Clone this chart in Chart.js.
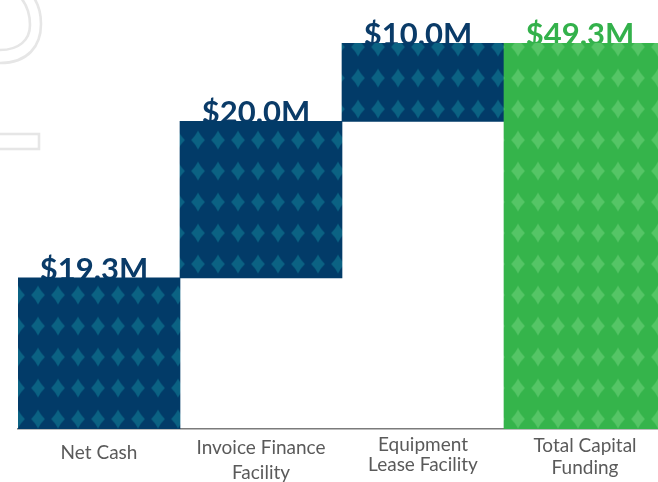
<!DOCTYPE html>
<html>
<head>
<meta charset="utf-8">
<script src="https://cdn.jsdelivr.net/npm/chart.js@4"></script>
<style>
  html, body { margin: 0; padding: 0; background: #fff; overflow: hidden; }
  #wrap { position: absolute; left: 0; top: 0; width: 666px; height: 482px; }
  #deco { position: absolute; left: 0; top: 0; z-index: 0; }
  #chart { position: absolute; left: 0; top: 0; z-index: 1; }
</style>
</head>
<body>
<div id="wrap">
  <svg id="deco" width="120" height="170">
    <path d="M0,63 C28,63 41,46 41,24 C41,12 38,4 34,-2" fill="none" stroke="#e6e6e6" stroke-width="2.6"/>
    <path d="M0,50 C19,50 30,40 30,25 C30,12 26,4 21,-2" fill="none" stroke="#e6e6e6" stroke-width="2.6"/>
    <rect x="-3" y="134" width="42" height="15" fill="none" stroke="#e6e6e6" stroke-width="2.6"/>
  </svg>
  <canvas id="chart" width="666" height="482"></canvas>
</div>
<script>
const categories = [
  ["Net Cash"],
  ["Invoice Finance", "Facility"],
  ["Equipment", "Lease Facility"],
  ["Total Capital", "Funding"]
];
const values = [19.3, 20.0, 10.0, 49.3];
const isTotal = [false, false, false, true];

// floating ranges for the waterfall
let running = 0;
const ranges = values.map((v, i) => {
  if (isTotal[i]) return [0, v];
  const r = [running, running + v];
  running += v;
  return r;
});
const valueLabels = values.map((v) => "$" + v.toFixed(1) + "M");

const canvas = document.getElementById("chart");
const ctx = canvas.getContext("2d");

// tile 20x31 with a concave four-point star in the middle
function makePattern(bg, star) {
  const c = document.createElement("canvas");
  c.width = 20;
  c.height = 31;
  const g = c.getContext("2d");
  g.fillStyle = bg;
  g.fillRect(0, 0, 20, 31);
  const cx = 10, cy = 15.5, hw = 7, hh = 9.5, k = 0.2;
  g.fillStyle = star;
  g.beginPath();
  g.moveTo(cx, cy - hh);
  g.quadraticCurveTo(cx + hw * 2 * k, cy - hh * 2 * k, cx + hw, cy);
  g.quadraticCurveTo(cx + hw * 2 * k, cy + hh * 2 * k, cx, cy + hh);
  g.quadraticCurveTo(cx - hw * 2 * k, cy + hh * 2 * k, cx - hw, cy);
  g.quadraticCurveTo(cx - hw * 2 * k, cy - hh * 2 * k, cx, cy - hh);
  g.fill();
  const p = ctx.createPattern(c, "repeat");
  p.setTransform(new DOMMatrix().translate(8, 0.5));
  return p;
}

const navyFill = makePattern("#023b68", "#0b6283");
const greenFill = makePattern("#35b44b", "#55c566");
const navyText = "#0a3b68";
const greenText = "#33b14b";

const tickLineHeights = ["35px", "25px", "20px", "22px"];

const valueLabelPlugin = {
  id: "valueLabels",
  beforeDatasetsDraw(chart) {
    const meta = chart.getDatasetMeta(0);
    const c = chart.ctx;
    c.save();
    c.font = "bold 31px Lato";
    c.textAlign = "center";
    c.textBaseline = "alphabetic";
    meta.data.forEach((bar, i) => {
      c.fillStyle = isTotal[i] ? greenText : navyText;
      c.fillText(valueLabels[i], bar.x - 5, bar.y + 2);
    });
    c.restore();
  }
};

new Chart(ctx, {
  type: "bar",
  data: {
    labels: categories,
    datasets: [
      {
        data: ranges,
        backgroundColor: isTotal.map((t) => (t ? greenFill : navyFill)),
        borderWidth: 0,
        barPercentage: 1,
        categoryPercentage: 1,
        borderSkipped: false
      }
    ]
  },
  options: {
    responsive: false,
    animation: false,
    layout: { padding: { left: 18, top: 43, right: 0, bottom: 0 } },
    plugins: {
      legend: { display: false },
      tooltip: { enabled: false }
    },
    scales: {
      x: {
        grid: { display: false, drawTicks: false },
        border: { display: true, color: "#7b7b7b", width: 1.5 },
        ticks: {
          color: "#5a5a5a",
          padding: 6,
          crossAlign: "near",
          maxRotation: 0,
          autoSkip: false,
          font: (c) => ({ family: "Lato", size: 19, lineHeight: tickLineHeights[c.index] || "21px" })
        },
        afterFit: (s) => { s.height = 53; }
      },
      y: {
        display: false,
        min: 0,
        max: 49.3
      }
    }
  },
  plugins: [valueLabelPlugin]
});
</script>
</body>
</html>
